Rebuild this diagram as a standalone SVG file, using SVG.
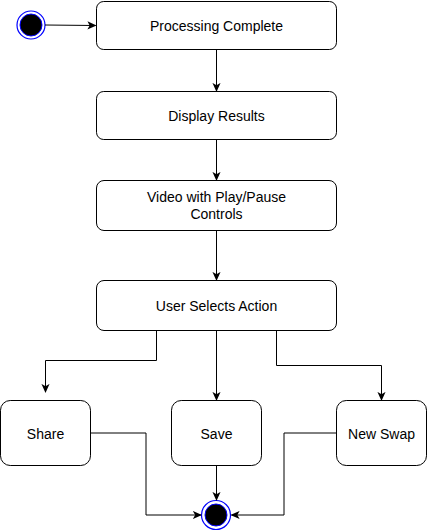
<svg xmlns="http://www.w3.org/2000/svg" width="427" height="531" viewBox="0 0 427 531">
<defs>
<marker id="arr" viewBox="0 0 10 10" refX="9" refY="5" markerWidth="9" markerHeight="9" markerUnits="userSpaceOnUse" orient="auto">
<path d="M0,0.5 L10,5 L0,9.5 L2.5,5 Z" fill="#000"/>
</marker>
</defs>
<style>
.box{fill:#fff;stroke:#000;stroke-width:1}
.lbl{font-family:"Liberation Sans",Arial,sans-serif;font-size:14px;fill:#000;text-anchor:middle;dominant-baseline:central}
.c{fill:none;stroke:#000;stroke-width:1;marker-end:url(#arr)}
</style>
<rect width="427" height="531" fill="#fff"/>
<g id="start">
<circle cx="31" cy="25" r="14" fill="#fff" stroke="#00f" stroke-width="1.2"/>
<circle cx="31" cy="25" r="11" fill="#000" stroke="#00f" stroke-width="1"/>
</g>
<g id="n1"><rect class="box" x="96.5" y="1.5" width="240" height="48" rx="7.2"/><text class="lbl" x="216.5" y="25.5">Processing Complete</text></g>
<g id="n2"><rect class="box" x="96.5" y="91.5" width="240" height="48" rx="7.2"/><text class="lbl" x="216.5" y="115.5">Display Results</text></g>
<g id="n3"><rect class="box" x="96.5" y="180.5" width="240" height="50" rx="7.5"/><text class="lbl" x="216.5" y="197">Video with Play/Pause</text><text class="lbl" x="216.5" y="214">Controls</text></g>
<g id="n4"><rect class="box" x="96.5" y="280.5" width="240" height="50" rx="7.5"/><text class="lbl" x="216.5" y="305.5">User Selects Action</text></g>
<g id="n5"><rect class="box" x="0.5" y="400.5" width="90" height="65" rx="9.75"/><text class="lbl" x="45.5" y="433.5">Share</text></g>
<g id="n6"><rect class="box" x="171.5" y="400.5" width="90" height="65" rx="9.75"/><text class="lbl" x="216.5" y="433.5">Save</text></g>
<g id="n7"><rect class="box" x="336.5" y="400.5" width="90" height="65" rx="9.75"/><text class="lbl" x="381.5" y="433.5">New Swap</text></g>
<g id="end">
<circle cx="216" cy="515" r="14.5" fill="#fff" stroke="#00f" stroke-width="1.2"/>
<circle cx="216" cy="515" r="11" fill="#000" stroke="#00f" stroke-width="1"/>
</g>
<g id="connectors">
<path class="c" d="M45,25 L95.5,25.5"/>
<path class="c" d="M216.5,49.5 L216.5,91"/>
<path class="c" d="M216.5,139.5 L216.5,180"/>
<path class="c" d="M216.5,230.5 L216.5,280"/>
<path class="c" d="M156.5,330.5 L156.5,360.5 L45.5,360.5 L45.5,392"/>
<path class="c" d="M216.5,330.5 L216.5,400"/>
<path class="c" d="M276.5,330.5 L276.5,365.5 L381.5,365.5 L381.5,400"/>
<path class="c" d="M91,433 L146,433 L146,515 L201,515"/>
<path class="c" d="M216.5,465.5 L216.5,500"/>
<path class="c" d="M336,433 L284,433 L284,515 L231.5,515"/>
</g>
</svg>
